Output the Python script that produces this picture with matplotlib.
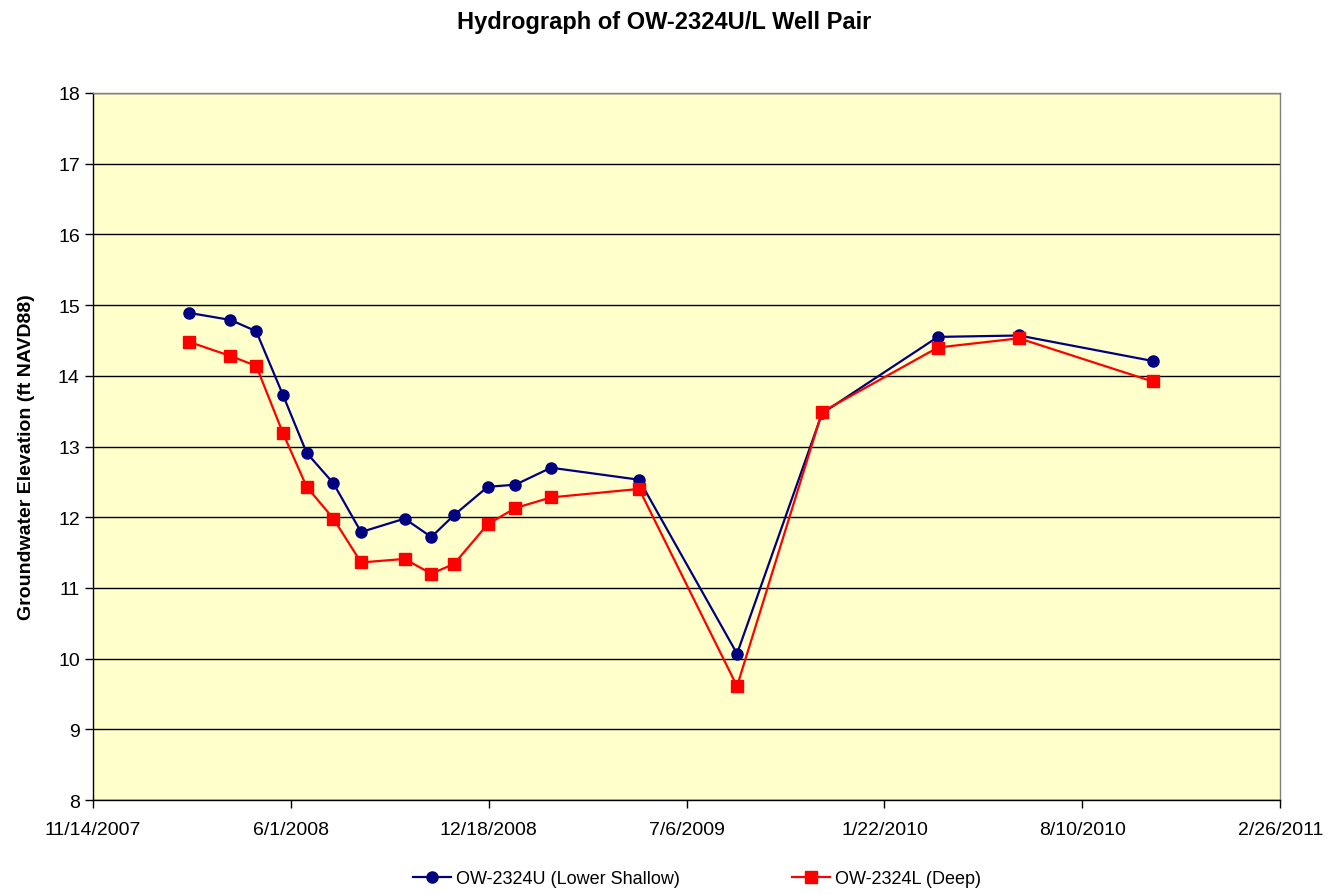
import matplotlib
matplotlib.use("Agg")
import matplotlib.pyplot as plt
import numpy as np
from datetime import date, timedelta

plt.rcParams['font.family'] = ['Liberation Sans', 'DejaVu Sans']

# sampling dates and water levels (ft NAVD88)
dates = ["2008-02-19", "2008-04-01", "2008-04-27", "2008-05-24", "2008-06-17",
         "2008-07-14", "2008-08-11", "2008-09-24", "2008-10-21", "2008-11-13",
         "2008-12-17", "2009-01-14", "2009-02-19", "2009-05-19", "2009-08-26",
         "2009-11-20", "2010-03-17", "2010-06-07", "2010-10-20"]
upper = [14.89, 14.79, 14.63, 13.73, 12.91, 12.48, 11.79, 11.98, 11.72, 12.03,
         12.43, 12.46, 12.70, 12.53, 10.07, 13.47, 14.55, 14.57, 14.21]
lower = [14.48, 14.28, 14.14, 13.19, 12.43, 11.98, 11.36, 11.41, 11.20, 11.34,
         11.90, 12.13, 12.28, 12.40, 9.61, 13.49, 14.40, 14.53, 13.92]

x = np.array(dates, dtype="datetime64[D]").astype(object)

fig = plt.figure(figsize=(13.28, 8.95), dpi=100)
ax = fig.add_axes([0.070, 0.105, 0.894, 0.790])
ax.set_facecolor("#FFFFCC")

ax.plot(x, upper, color="#000080", marker="o", markersize=8, linewidth=1.6,
        label="OW-2324U (Lower Shallow)", zorder=3)
ax.plot(x, lower, color="#FF0000", marker="s", markersize=8, linewidth=1.6,
        label="OW-2324L (Deep)", zorder=3)

# x ticks every 200 days, Excel-style
start = date(2007, 11, 14)
ticks = [start + timedelta(days=200 * i) for i in range(7)]
ax.set_xlim(ticks[0], ticks[-1])
ax.set_xticks(ticks)
ax.set_xticklabels([f"{d.month}/{d.day}/{d.year}" for d in ticks], fontsize=14)

ax.set_ylim(8, 18)
ax.set_yticks(range(8, 19))
ax.tick_params(axis="y", labelsize=14)
ax.tick_params(axis="x", pad=9)
ax.tick_params(direction="out", length=6, width=1, color="black")
ax.yaxis.grid(True, color="black", linewidth=1)
ax.set_axisbelow(True)
for s in ax.spines.values():
    s.set_color("#808080")
    s.set_linewidth(1)
ax.spines["bottom"].set_color("black")
ax.spines["left"].set_color("black")

ax.set_ylabel("Groundwater Elevation (ft NAVD88)", fontsize=14, fontweight="bold")
ax.yaxis.set_label_coords(-0.049, 0.487)
fig.suptitle("Hydrograph of OW-2324U/L Well Pair", x=0.5, y=0.988,
             fontsize=17, fontweight="bold")

fig.legend(loc="center", bbox_to_anchor=(0.525, 0.017), ncol=2, frameon=False,
           fontsize=13, columnspacing=6.2, handlelength=2.1, handletextpad=0.28)

fig.savefig("out.png", dpi=100)
